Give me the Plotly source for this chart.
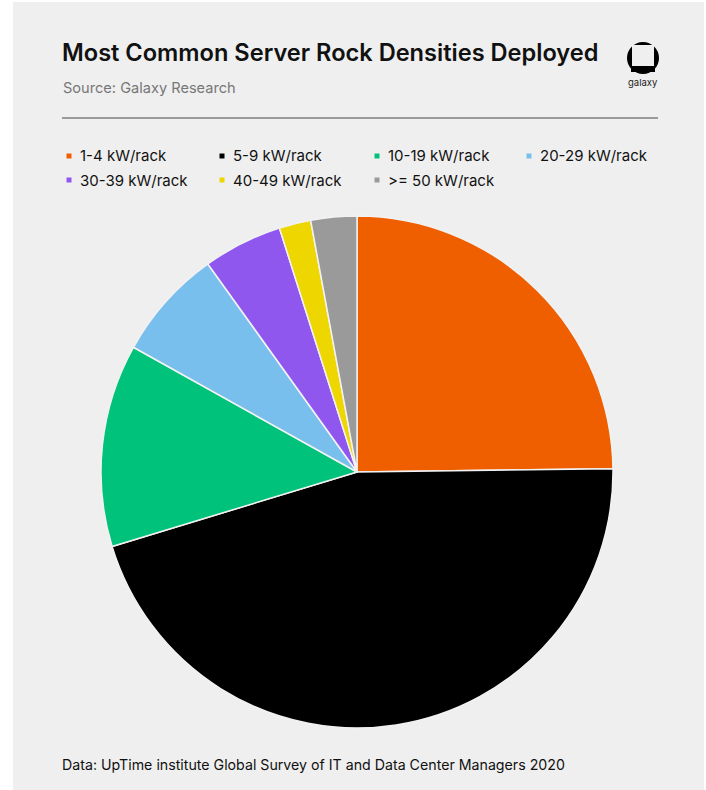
import plotly.graph_objects as go

W, H = 706, 790

categories = ["1-4 kW/rack", "5-9 kW/rack", "10-19 kW/rack", "20-29 kW/rack",
              "30-39 kW/rack", "40-49 kW/rack", ">= 50 kW/rack"]
shares = [24.8, 45.5, 12.8, 7.0, 5.0, 2.0, 2.9]
colors = ["#EF5F00", "#000000", "#00C27A", "#79BFEE", "#9057EE", "#EED600", "#9A9A9A"]

BG = "#EFEFEF"
FONT = "Inter, Roboto, sans-serif"


def px(x):
    return x / W


def py(y):
    return 1 - y / H


cx, cy, r = 357, 472, 256

fig = go.Figure(go.Pie(
    labels=categories,
    values=shares,
    sort=False,
    direction="clockwise",
    rotation=0,
    marker=dict(colors=colors, line=dict(color="#F2F2F2", width=1.5)),
    textinfo="none",
    hoverinfo="label+percent",
    showlegend=False,
    domain=dict(x=[px(cx - r), px(cx + r)], y=[py(cy + r), py(cy - r)]),
))

shapes = [
    dict(type="rect", xref="paper", yref="paper", x0=px(13), x1=px(704), y0=py(2), y1=py(790),
         fillcolor=BG, line=dict(width=0), layer="below"),
    dict(type="line", xref="paper", yref="paper", x0=px(62), x1=px(658), y0=py(118), y1=py(118),
         line=dict(color="#444444", width=1)),
    # logo
    dict(type="circle", xref="paper", yref="paper", x0=px(627), x1=px(659), y0=py(42), y1=py(74),
         fillcolor="#000000", line=dict(width=0)),
    dict(type="rect", xref="paper", yref="paper", x0=px(632), x1=px(654), y0=py(45), y1=py(67),
         fillcolor=BG, line=dict(width=0)),
    dict(type="rect", xref="paper", yref="paper", x0=px(631), x1=px(655), y0=py(66), y1=py(72),
         fillcolor="#000000", line=dict(width=0)),
]

annotations = [
    dict(text="Most Common Server Rock Densities Deployed", x=px(60), y=py(52), xref="paper", yref="paper",
         xanchor="left", yanchor="middle", showarrow=False,
         font=dict(family=FONT, size=23.6, color="#111111", weight=600)),
    dict(text="Source: Galaxy Research", x=px(61), y=py(88), xref="paper", yref="paper",
         xanchor="left", yanchor="middle", showarrow=False,
         font=dict(family=FONT, size=14.6, color="#777777")),
    dict(text="galaxy", x=px(643), y=py(82), xref="paper", yref="paper",
         xanchor="center", yanchor="middle", showarrow=False,
         font=dict(family=FONT, size=9.5, color="#222222", weight=400)),
    dict(text="Data: UpTime institute Global Survey of IT and Data Center Managers 2020", x=px(60), y=py(765),
         xref="paper", yref="paper", xanchor="left", yanchor="middle", showarrow=False,
         font=dict(family=FONT, size=14.2, color="#111111")),
]

# custom legend: small square marker followed by label, 4 per row
col_x = [69, 222, 377, 529]
row_y = [156, 180]
for i, (lab, col) in enumerate(zip(categories, colors)):
    mx = col_x[i % 4]
    my = row_y[i // 4]
    shapes.append(dict(type="rect", xref="paper", yref="paper",
                       x0=px(mx - 2.5), x1=px(mx + 2.5), y0=py(my + 2.5), y1=py(my - 2.5),
                       fillcolor=col, line=dict(width=0)))
    annotations.append(dict(text=lab, x=px(mx + 9), y=py(my), xref="paper", yref="paper",
                            xanchor="left", yanchor="middle", showarrow=False,
                            font=dict(family=FONT, size=15, color="#111111")))

fig.update_layout(
    width=W, height=H,
    margin=dict(l=0, r=0, t=0, b=0),
    paper_bgcolor="#FFFFFF", plot_bgcolor=BG,
    font=dict(family=FONT, color="#111111"),
    shapes=shapes,
    annotations=annotations,
    showlegend=False,
)

fig.write_html("out.html", config={"displayModeBar": False},
               post_script="document.body.style.margin='0px';")
